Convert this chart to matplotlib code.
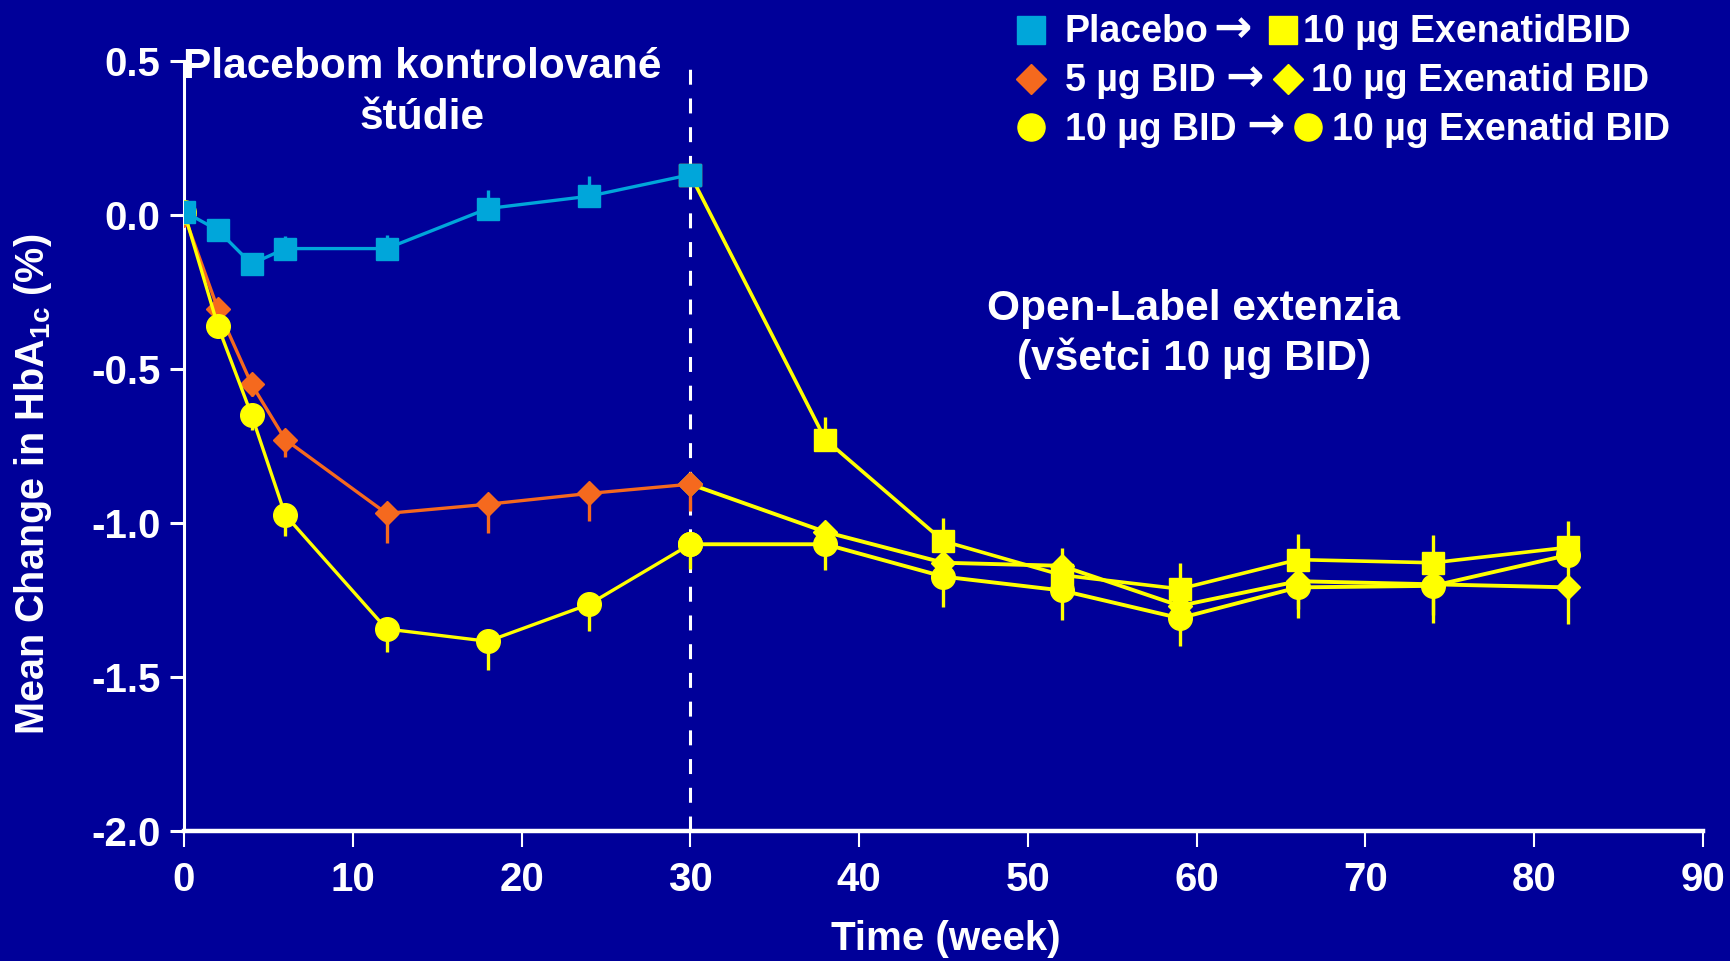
import matplotlib
matplotlib.use("Agg")
import matplotlib.pyplot as plt
from matplotlib.lines import Line2D

plt.rcParams['font.family'] = ['Liberation Sans', 'DejaVu Sans']
plt.rcParams['font.weight'] = 'bold'

# ---- data -------------------------------------------------------------
weeks_blind = [0, 2, 4, 6, 12, 18, 24, 30]
weeks_ext = [38, 45, 52, 59, 66, 74, 82]

placebo_blind = [0.01, -0.05, -0.16, -0.11, -0.11, 0.02, 0.06, 0.13]
placebo_blind_err = [0.0, 0.02, 0.02, 0.04, 0.045, 0.06, 0.065, 0.03]

exen5_blind = [0.0, -0.305, -0.55, -0.73, -0.97, -0.94, -0.905, -0.875]
exen5_blind_err = [0.0, 0.02, 0.04, 0.058, 0.097, 0.095, 0.088, 0.087]

exen10_blind = [0.01, -0.36, -0.65, -0.975, -1.345, -1.385, -1.265, -1.07]
exen10_blind_err = [0.0, 0.03, 0.05, 0.068, 0.076, 0.092, 0.087, 0.081]

ext_from_placebo = [-0.73, -1.06, -1.17, -1.215, -1.12, -1.13, -1.08]
ext_from_placebo_err = [0.072, 0.074, 0.087, 0.083, 0.084, 0.089, 0.087]

ext_from_5 = [-1.03, -1.13, -1.14, -1.27, -1.19, -1.20, -1.21]
ext_from_5_err = [0.05, 0.07, 0.08, 0.08, 0.09, 0.10, 0.12]

ext_from_10 = [-1.07, -1.175, -1.22, -1.31, -1.21, -1.205, -1.105]
ext_from_10_err = [0.082, 0.10, 0.097, 0.089, 0.10, 0.12, 0.09]

x_ticks = [0, 10, 20, 30, 40, 50, 60, 70, 80, 90]
y_ticks = [0.5, 0.0, -0.5, -1.0, -1.5, -2.0]

# ---- style ------------------------------------------------------------
BG = '#000099'
BLUE = '#00A6DA'
ORANGE = '#F5691E'
YELLOW = '#FFFF00'
WHITE = '#FFFFFF'

W, H, DPI = 1731, 961, 100
fig = plt.figure(figsize=(W / DPI, H / DPI), dpi=DPI, facecolor=BG)

x0, x1, ytop, ybot = 184, 1703, 60.7, 830.7
ax = fig.add_axes([x0 / W, 1 - ybot / H, (x1 - x0) / W, (ybot - ytop) / H])
ax.set_facecolor(BG)
ax.set_xlim(0, 90)
ax.set_ylim(-2.0, 0.5)

ELW = 2.4
MS_SQ, MS_D, MS_O = 16.0, 12.0, 17.0


def series(x, y, err, color, marker, ms, up, z, lw):
    yerr = [[0] * len(err), err] if up else [err, [0] * len(err)]
    ax.errorbar(x, y, yerr=yerr, color=color, ecolor=color, elinewidth=ELW,
                capsize=0, lw=lw, marker=marker, ms=ms, mec=color, mfc=color,
                zorder=z)


# extension lines start from the week-30 value of each arm
series([weeks_blind[-1]] + weeks_ext, [placebo_blind[-1]] + ext_from_placebo,
       [0] + ext_from_placebo_err, YELLOW, 's', MS_SQ, True, 4, 2.6)
series([weeks_blind[-1]] + weeks_ext, [exen5_blind[-1]] + ext_from_5,
       [0] + ext_from_5_err, YELLOW, 'D', MS_D, False, 4, 2.8)
series([weeks_blind[-1]] + weeks_ext, [exen10_blind[-1]] + ext_from_10,
       [0] + ext_from_10_err, YELLOW, 'o', MS_O, False, 4, 2.8)

series(weeks_blind, exen5_blind, exen5_blind_err, ORANGE, 'D', MS_D, False, 5, 2.4)
series(weeks_blind, exen10_blind, exen10_blind_err, YELLOW, 'o', MS_O, False, 6, 2.4)
series(weeks_blind, placebo_blind, placebo_blind_err, BLUE, 's', MS_SQ, True, 7, 2.4)

# end of the placebo-controlled period
ax.axvline(30, color=WHITE, lw=2.2, dashes=(4.9, 4.5), zorder=3)

for s in ('top', 'right'):
    ax.spines[s].set_visible(False)
ax.spines['left'].set_color(WHITE)
ax.spines['left'].set_linewidth(2.2)
ax.spines['bottom'].set_color(WHITE)
ax.spines['bottom'].set_linewidth(3.2)

TFS = 29
ax.set_xticks(x_ticks)
ax.set_xticklabels([str(v) for v in x_ticks])
ax.set_yticks(y_ticks)
ax.set_yticklabels([f'{v:.1f}' for v in y_ticks])
ax.tick_params(axis='y', direction='out', length=10, width=2.2, colors=WHITE,
               labelsize=TFS, pad=7)
ax.tick_params(axis='x', direction='out', length=11.5, width=1.5, colors=WHITE,
               labelsize=TFS, pad=10.5)
for lab in ax.get_xticklabels() + ax.get_yticklabels():
    lab.set_fontweight('bold')

# ---- overlay in pixel coordinates for titles and legend ----------------
ov = fig.add_axes([0, 0, 1, 1], facecolor='none')
ov.set_xlim(0, W)
ov.set_ylim(H, 0)
ov.axis('off')

ov.text(33, 484, 'Mean Change in HbA$_{\\mathregular{1c}}$ (%)', rotation=90,
        ha='center', va='center', color=WHITE, fontsize=28.5, fontweight='bold')
ov.text(946, 939, 'Time (week)', ha='center', va='center', color=WHITE,
        fontsize=29, fontweight='bold')

AFS = 30.5
ov.text(422, 78, 'Placebom kontrolované', ha='center', va='baseline',
        color=WHITE, fontsize=AFS, fontweight='bold')
ov.text(422, 129, 'štúdie', ha='center', va='baseline',
        color=WHITE, fontsize=AFS, fontweight='bold')
ov.text(1194, 320, 'Open-Label extenzia', ha='center', va='baseline',
        color=WHITE, fontsize=AFS, fontweight='bold')
ov.text(1194, 370, '(všetci 10 µg BID)', ha='center', va='baseline',
        color=WHITE, fontsize=AFS, fontweight='bold')

LFS = 27
legend_rows = [
    (30, 42, 's', 20.0, BLUE, 'Placebo', 1233, 1283, '10 µg ExenatidBID', 1303),
    (79, 91, 'D', 15.5, ORANGE, '5 µg BID', 1245, 1288, '10 µg Exenatid BID', 1311),
    (127, 140, 'o', 19.5, YELLOW, '10 µg BID', 1266, 1308, '10 µg Exenatid BID', 1332),
]
for ym, yb, mk, ms, c1, t1, arrow_x, mx2, t2, tx2 in legend_rows:
    ov.add_line(Line2D([1031], [ym], marker=mk, ms=ms, color=c1, mec=c1, ls='none'))
    ov.text(1065, yb, t1, ha='left', va='baseline', color=WHITE,
            fontsize=LFS, fontweight='bold')
    ov.text(arrow_x, ym, '→', ha='center', va='center', color=WHITE,
            fontsize=33, fontweight='bold', family=['DejaVu Sans'])
    ov.add_line(Line2D([mx2], [ym], marker=mk, ms=ms, color=YELLOW, mec=YELLOW,
                       ls='none'))
    ov.text(tx2, yb, t2, ha='left', va='baseline', color=WHITE,
            fontsize=LFS, fontweight='bold')

fig.savefig('out.png', dpi=DPI, facecolor=BG)
